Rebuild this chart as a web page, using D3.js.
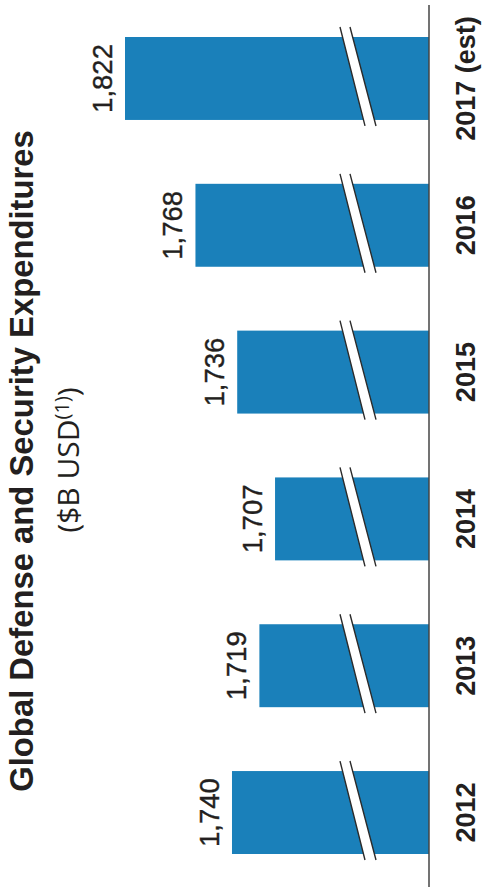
<!DOCTYPE html>
<html>
<head>
<meta charset="utf-8">
<script src="https://cdn.jsdelivr.net/npm/d3@7"></script>
<style>
  html, body { margin: 0; padding: 0; background: #fff; }
  svg { display: block; }
</style>
</head>
<body>
<script>
// Global defense & security spending, $B USD
const categories = ["2012", "2013", "2014", "2015", "2016", "2017 (est)"];
const values = [1740, 1719, 1707, 1736, 1768, 1822];
const titleText = "Global Defense and Security Expenditures";
const unitText = "($B USD";
const unitNote = "(1)";

// Value axis is broken: bars start from this floor instead of zero
const axisFloor = 1589;
const axisTop = 1822;

const W = 486, H = 887;
// The chart is laid out as an ordinary column chart in a frame that is
// H wide and W tall, then turned a quarter turn counter-clockwise.

const svg = d3.select("body").append("svg")
  .attr("width", W).attr("height", H);

const g = svg.append("g")
  .attr("transform", `translate(0,${H}) rotate(-90)`);

const x = d3.scaleBand()
  .domain(categories)
  .range([33, 850])
  .paddingInner(0.435)
  .paddingOuter(0);

const y = d3.scaleLinear()
  .domain([axisFloor, axisTop])
  .range([429, 125]);

const base = y(axisFloor);
const blue = "#1a80ba";
const ink = "#231f20";
const fmt = d3.format(",");

// Bars
g.selectAll("rect.bar")
  .data(values)
  .join("rect")
  .attr("class", "bar")
  .attr("x", (d, i) => x(categories[i]))
  .attr("width", x.bandwidth())
  .attr("y", d => y(d))
  .attr("height", d => base - y(d))
  .attr("fill", blue);

// Axis-break marks: a white slanted strip edged by two thin dark lines
const brk = g.selectAll("g.brk")
  .data(categories)
  .join("g")
  .attr("class", "brk");

function breakLines(c) {
  const bx = x(c), bw = x.bandwidth();
  const top = bx + bw + 10, bot = bx - 6;
  return {
    a: [[top, base - 89], [bot, base - 64]],
    b: [[top, base - 79], [bot, base - 53]]
  };
}

brk.append("path")
  .attr("d", c => {
    const l = breakLines(c);
    return `M${l.a[0]}L${l.a[1]}L${l.b[1]}L${l.b[0]}Z`;
  })
  .attr("fill", "#fff");

brk.append("path")
  .attr("d", c => {
    const l = breakLines(c);
    return `M${l.a[0]}L${l.a[1]}M${l.b[0]}L${l.b[1]}`;
  })
  .attr("fill", "none")
  .attr("stroke", "#2b2b2b")
  .attr("stroke-width", 1.4);

// Baseline
g.append("line")
  .attr("x1", 0).attr("x2", 882)
  .attr("y1", base).attr("y2", base)
  .attr("stroke", "#444")
  .attr("stroke-width", 1.5);

// Category labels
const xAxis = d3.axisBottom(x).tickSize(0).tickPadding(0);
const ax = g.append("g")
  .attr("transform", `translate(0,${base})`)
  .call(xAxis);
ax.select(".domain").remove();
ax.selectAll("text")
  .attr("dy", null)
  .attr("y", 46)
  .attr("fill", ink)
  .style("font-family", "'Liberation Sans', Arial, sans-serif")
  .style("font-weight", "bold")
  .style("font-size", "27px");

// Value labels
g.selectAll("text.val")
  .data(values)
  .join("text")
  .attr("class", "val")
  .attr("x", (d, i) => x(categories[i]) + x.bandwidth() / 2)
  .attr("y", d => y(d) - 13)
  .attr("text-anchor", "middle")
  .attr("fill", ink)
  .style("font-family", "'Liberation Sans', Arial, sans-serif")
  .style("font-size", "27.5px")
  .style("stroke", ink)
  .style("stroke-width", 0.4)
  .text(d => fmt(d));

// Title
g.append("text")
  .attr("x", 426).attr("y", 33)
  .attr("text-anchor", "middle")
  .attr("fill", ink)
  .style("font-family", "'Liberation Sans', Arial, sans-serif")
  .style("font-weight", "bold")
  .style("font-size", "32.8px")
  .text(titleText);

// Units line with footnote marker
const sub = g.append("text")
  .attr("x", 427).attr("y", 79)
  .attr("text-anchor", "middle")
  .attr("fill", ink)
  .style("font-family", "'Open Sans', sans-serif")
  .style("font-size", "30px");
sub.append("tspan").text(unitText);
sub.append("tspan")
  .attr("dy", -10)
  .style("font-size", "20px")
  .text(unitNote);
sub.append("tspan")
  .attr("dy", 10)
  .text(")");
</script>
</body>
</html>
